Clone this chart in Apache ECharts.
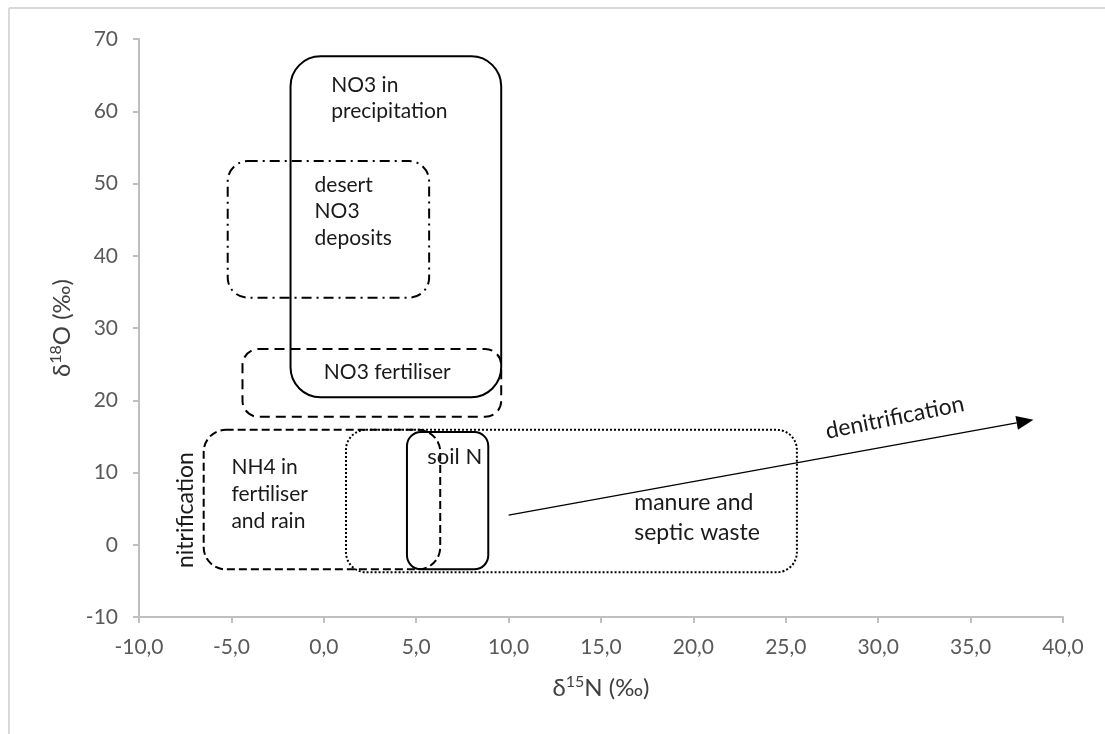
<!DOCTYPE html>
<html>
<head>
<meta charset="utf-8">
<style>
  html, body { margin: 0; padding: 0; background: #fff; }
  #chart { width: 1105px; height: 734px; }
</style>
<script src="https://cdn.jsdelivr.net/npm/echarts@6/dist/echarts.min.js"></script>
</head>
<body>
<div id="chart"></div>
<script>
// Isotope source fields: δ15N range (x) and δ18O range (y), in ‰
const regionNames = ['NO3 in precipitation', 'desert NO3 deposits', 'NO3 fertiliser',
                     'NH4 in fertiliser and rain', 'manure and septic waste', 'soil N'];
const regionN15 = [[-1.8, 9.6], [-5.2, 5.7], [-4.4, 9.6], [-6.5, 6.3], [1.2, 25.6], [4.5, 8.9]];
const regionO18 = [[20.4, 67.6], [34.2, 53.1], [17.7, 27.1], [-3.4, 15.9], [-3.8, 15.9], [-3.4, 15.6]];

// Labels placed inside the fields: [δ15N of left edge, δ18O of text centre]
const labelTexts = ['NO3 in\nprecipitation', 'desert\nNO3\ndeposits', 'NO3 fertiliser',
                    'NH4 in\nfertiliser\nand rain', 'manure and\nseptic waste', 'soil N'];
const labelPos = [[0.4, 61.8], [-0.5, 46.1], [0.0, 23.9], [-5.0, 7.0], [16.8, 3.7], [5.6, 12.1]];

// Process arrows
const denitrArrow = [10.0, 4.1, 38.4, 17.3];
const processLabels = ['denitrification', 'nitrification'];
const processLabelPos = [[30.9, 17.6], [-7.5, 4.8]];

// Axis ticks
const xTicks = [-10, -5, 0, 5, 10, 15, 20, 25, 30, 35, 40];
const yTicks = [-10, 0, 10, 20, 30, 40, 50, 60, 70];

const FONT = 'Lato, "Open Sans", sans-serif';

// outline styles for each field
const boxStyles = [
  { dash: null, r: 30 },            // precipitation: solid
  { dash: [10, 5, 2, 5], r: 20 },   // desert deposits: dash-dot
  { dash: [10, 6], r: 16 },         // NO3 fertiliser: dashed
  { dash: [8, 4], r: 22 },          // NH4: dashed
  { dash: [2, 2], r: 20 },          // manure: dotted
  { dash: null, r: 14 }             // soil N: solid
];
const labelSizes = [21, 21, 21, 21, 23, 22];
const labelLineHeights = [26, 26.5, 26, 27, 30, 26];

const boxData = regionNames.map((n, i) => [regionN15[i][0], regionN15[i][1], regionO18[i][0], regionO18[i][1]]);
const labelData = labelTexts.map((t, i) => [labelPos[i][0], labelPos[i][1]]);

const chart = echarts.init(document.getElementById('chart'), null, { renderer: 'canvas' });

const fmtComma = v => v.toFixed(1).replace('.', ',');

const titleRich = {
  a: { fontFamily: FONT, fontSize: 24, color: '#404040', lineHeight: 28 },
  s: { fontFamily: FONT, fontSize: 16, color: '#404040', verticalAlign: 'top', lineHeight: 16 }
};

chart.setOption({
  animation: false,
  backgroundColor: '#fff',
  graphic: [
    { type: 'line', shape: { x1: 9, y1: 8, x2: 1105, y2: 8 }, style: { stroke: '#d9d9d9', lineWidth: 2 } },
    { type: 'line', shape: { x1: 9, y1: 8, x2: 9, y2: 734 }, style: { stroke: '#d9d9d9', lineWidth: 2 } }
  ],
  grid: { left: 139, right: 42, top: 39, bottom: 117, containLabel: false },
  xAxis: {
    type: 'value', min: xTicks[0], max: xTicks[xTicks.length - 1], interval: 5,
    name: '{a|δ}{s|15}{a|N (‰)}', nameLocation: 'middle', nameGap: 57,
    nameTextStyle: { rich: titleRich },
    axisLine: { show: true, onZero: false, lineStyle: { color: '#bfbfbf', width: 2 } },
    axisTick: { show: true, length: 6, lineStyle: { color: '#bfbfbf', width: 2 } },
    axisLabel: { formatter: fmtComma, fontFamily: FONT, fontSize: 21, color: '#595959', margin: 20 },
    splitLine: { show: false }
  },
  yAxis: {
    type: 'value', min: yTicks[0], max: yTicks[yTicks.length - 1], interval: 10,
    name: '{a|δ}{s|18}{a|O (‰)}', nameLocation: 'middle', nameGap: 63, nameRotate: 90,
    nameTextStyle: { rich: titleRich },
    axisLine: { show: true, onZero: false, lineStyle: { color: '#bfbfbf', width: 2 } },
    axisTick: { show: true, length: 6, lineStyle: { color: '#bfbfbf', width: 2 } },
    axisLabel: { fontFamily: FONT, fontSize: 21, color: '#595959', margin: 21 },
    splitLine: { show: false }
  },
  series: [
    {
      type: 'custom',
      name: 'fields',
      data: boxData,
      renderItem: function (params, api) {
        const s = boxStyles[params.dataIndex];
        const tl = api.coord([api.value(0), api.value(3)]);
        const br = api.coord([api.value(1), api.value(2)]);
        return {
          type: 'rect',
          shape: { x: tl[0], y: tl[1], width: br[0] - tl[0], height: br[1] - tl[1], r: s.r },
          style: { fill: 'none', stroke: '#000', lineWidth: 2, lineDash: s.dash || null }
        };
      },
      z: 2
    },
    {
      type: 'custom',
      name: 'arrow',
      data: [denitrArrow],
      renderItem: function (params, api) {
        const a = api.coord([api.value(0), api.value(1)]);
        const b = api.coord([api.value(2), api.value(3)]);
        const ang = Math.atan2(b[1] - a[1], b[0] - a[0]);
        const L = 17, W = 7;
        const bx = b[0] - L * Math.cos(ang), by = b[1] - L * Math.sin(ang);
        const nx = -Math.sin(ang) * W, ny = Math.cos(ang) * W;
        return {
          type: 'group',
          children: [
            { type: 'line', shape: { x1: a[0], y1: a[1], x2: bx, y2: by }, style: { stroke: '#000', lineWidth: 1.3 } },
            { type: 'polygon', shape: { points: [[b[0], b[1]], [bx + nx, by + ny], [bx - nx, by - ny]] }, style: { fill: '#000' } }
          ]
        };
      },
      z: 3
    },
    {
      type: 'custom',
      name: 'labels',
      data: labelData,
      renderItem: function (params, api) {
        const p = api.coord([api.value(0), api.value(1)]);
        const i = params.dataIndex;
        return {
          type: 'text', x: p[0], y: p[1],
          style: {
            text: labelTexts[i], fill: '#1a1a1a',
            fontFamily: FONT, fontSize: labelSizes[i], lineHeight: labelLineHeights[i],
            align: 'left', verticalAlign: 'middle'
          }
        };
      },
      z: 4
    },
    {
      type: 'custom',
      name: 'process',
      data: processLabelPos,
      renderItem: function (params, api) {
        const p = api.coord([api.value(0), api.value(1)]);
        const rot = params.dataIndex === 0 ? 11.5 * Math.PI / 180 : Math.PI / 2;
        return {
          type: 'text', x: p[0], y: p[1], rotation: rot,
          style: {
            text: processLabels[params.dataIndex], fill: '#1a1a1a',
            fontFamily: FONT, fontSize: 23, align: 'center', verticalAlign: 'middle'
          }
        };
      },
      z: 4
    }
  ]
});
</script>
</body>
</html>
